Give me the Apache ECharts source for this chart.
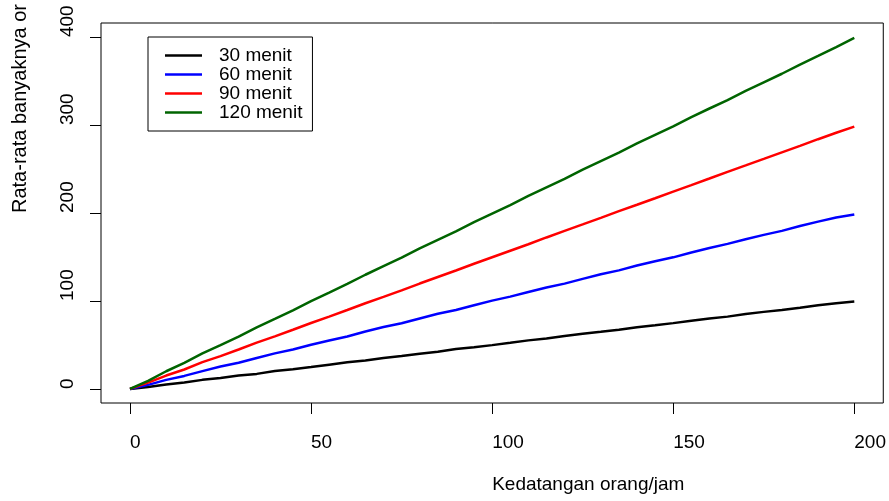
<!DOCTYPE html>
<html>
<head>
<meta charset="utf-8">
<script src="https://cdn.jsdelivr.net/npm/echarts@6/dist/echarts.min.js"></script>
<style>
html,body{margin:0;padding:0;background:#fff;}
#chart{width:889px;height:501px;}
</style>
</head>
<body>
<div id="chart"></div>
<script>
var xValues = [0,5,10,15,20,25,30,35,40,45,50,55,60,65,70,75,80,85,90,95,100,105,110,115,120,125,130,135,140,145,150,155,160,165,170,175,180,185,190,195,200];
var s30 = [0,2.3,5.1,7.2,10.3,12.5,15.2,17.1,20.3,22.4,24.9,27.6,30.2,32.3,35.1,37.4,40.1,42.2,45.3,47.4,49.8,52.4,55.2,57.3,60.1,62.6,64.9,67.3,70.2,72.4,74.8,77.5,80.1,82.2,85.1,87.6,89.8,92.3,95.2,97.4,99.3];
var s60 = [0,4.6,10.3,14.8,20.2,25.4,29.7,35.2,40.4,44.8,50.3,55.1,59.6,65.2,70.3,74.7,80.1,85.4,89.8,95.2,100.4,104.9,110.2,115.3,119.7,125.1,130.4,134.8,140.3,145.2,149.6,155.1,160.3,164.9,170.2,175.1,179.7,185.3,190.2,194.8,198.2];
var s90 = [0,7.1,15.2,22.1,30.4,37.3,44.8,52.6,59.8,67.3,74.9,82.2,89.7,97.4,104.6,112.1,119.8,127.2,134.6,142.3,149.7,157.1,164.5,172.2,179.6,187.0,194.5,202.1,209.4,216.8,224.3,231.7,239.2,246.8,254.1,261.5,269.0,276.3,283.9,291.2,298.2];
var s120 = [0,9.2,20.1,29.6,40.3,49.8,59.4,69.9,79.6,89.4,99.8,109.5,119.3,129.8,139.6,149.2,159.7,169.4,179.1,189.6,199.3,209.0,219.4,229.2,238.8,249.3,259.1,268.7,279.2,288.9,298.6,309.1,318.8,328.4,338.9,348.6,358.3,368.8,378.5,388.7,399.0];
var seriesNames = ['30 menit','60 menit','90 menit','120 menit'];
var seriesColors = ['#000000','#0000ff','#ff0000','#006400'];
var xTicks = [0,50,100,150,200];
var yTicks = [0,100,200,300,400];
var xTitle = 'Kedatangan orang/jam';
var yTitle = 'Rata-rata banyaknya or';

function pairs(ys){ return xValues.map(function(x,i){ return [x, ys[i]]; }); }
var allSeries = [s30,s60,s90,s120];
var FONT = '"Liberation Sans", Arial, Helvetica, sans-serif';

var chart = echarts.init(document.getElementById('chart'), null, {renderer:'canvas'});
chart.setOption({
  backgroundColor:'#ffffff',
  animation:false,
  textStyle:{fontFamily:FONT},
  grid:{left:101, top:23, width:783, height:380, show:true, borderColor:'#000', borderWidth:1, backgroundColor:'transparent'},
  legend:{
    orient:'vertical', left:148, top:37,
    padding:[9,10,9,17],
    itemGap:0, itemWidth:37, itemHeight:2.5, icon:'rect',
    borderColor:'#000', borderWidth:1,
    textStyle:{fontFamily:FONT, fontSize:19, color:'#000', lineHeight:18.8, padding:[0,0,0,12]},
    data:seriesNames
  },
  xAxis:{
    type:'value', min:-8, max:208,
    splitLine:{show:false},
    axisLine:{show:false, onZero:false},
    axisTick:{show:true, customValues:xTicks, length:11, lineStyle:{color:'#000', width:1}},
    axisLabel:{customValues:xTicks, margin:30, align:'left', color:'#000', fontSize:19, fontFamily:FONT},
    name:xTitle, nameLocation:'middle', nameGap:72,
    nameTextStyle:{fontSize:19, color:'#000', align:'left', verticalAlign:'top', fontFamily:FONT}
  },
  yAxis:{
    type:'value', min:-16, max:416,
    splitLine:{show:false},
    axisLine:{show:false, onZero:false},
    axisTick:{show:true, customValues:yTicks, length:11, lineStyle:{color:'#000', width:1}},
    axisLabel:{customValues:yTicks, rotate:90, margin:24, align:'left', verticalAlign:'bottom', color:'#000', fontSize:19, fontFamily:FONT},
    name:yTitle, nameLocation:'middle', nameGap:71, nameRotate:90,
    nameTextStyle:{fontSize:20, color:'#000', align:'left', verticalAlign:'bottom', fontFamily:FONT}
  },
  series: allSeries.map(function(ys,i){
    return {type:'line', name:seriesNames[i], data:pairs(ys), symbol:'none', smooth:false,
      lineStyle:{color:seriesColors[i], width:2.5}, itemStyle:{color:seriesColors[i]}};
  })
});
</script>
</body>
</html>
